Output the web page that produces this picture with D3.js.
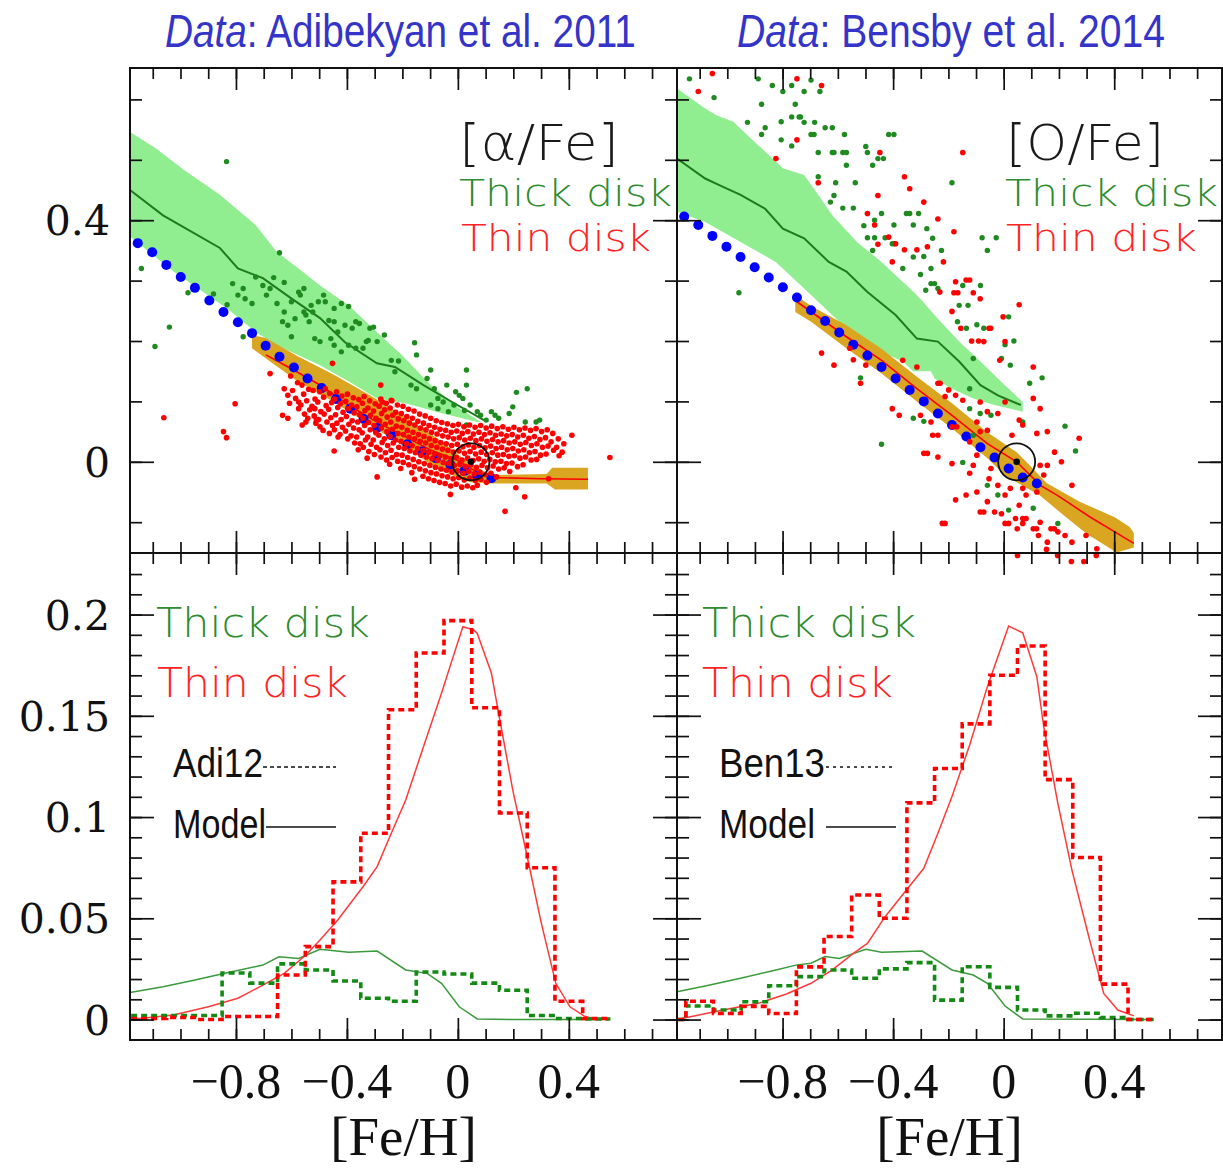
<!DOCTYPE html>
<html><head><meta charset="utf-8">
<script src="https://cdn.jsdelivr.net/npm/d3@7"></script>
<style>body{margin:0;background:#fff}</style>
</head><body>
<svg id="c" width="1223" height="1168"></svg>
<script>
// ---------------- DATA ----------------
const xDomain = [-1.182, 0.79];
const topYDomain = [-0.151, 0.652];
const botYDomain = [-0.0101, 0.2304];

const xTickLabels = [-0.8, -0.4, 0, 0.4];
const topYTickLabels = [0, 0.4];
const botYTickLabels = [0, 0.05, 0.1, 0.15, 0.2];

const sun = [0.047, 0.0];

// --- Top-left: [alpha/Fe], Adibekyan
const gBandUpL = [[-1.182,0.546],[-1.089,0.519],[-0.987,0.483],[-0.858,0.442],[-0.729,0.392],[-0.652,0.347],[-0.574,0.320],[-0.497,0.292],[-0.394,0.259],[-0.292,0.215],[-0.202,0.177],[-0.098,0.127],[0.004,0.089],[0.083,0.066]];
const gBandLoL = [[0.069,0.066],[-0.061,0.081],[-0.188,0.097],[-0.292,0.105],[-0.382,0.130],[-0.497,0.160],[-0.652,0.193],[-0.729,0.215],[-0.832,0.254],[-1.025,0.315],[-1.182,0.373]];
const gMeanL = [[-1.182,0.450],[-1.063,0.408],[-0.858,0.354],[-0.793,0.320],[-0.703,0.304],[-0.602,0.271],[-0.497,0.238],[-0.407,0.198],[-0.292,0.163],[-0.227,0.157],[-0.124,0.127],[-0.021,0.099],[0.094,0.069]];
const oBandUpL = [[-0.742,0.210],[-0.692,0.205],[-0.574,0.174],[-0.447,0.144],[-0.317,0.110],[-0.173,0.069],[-0.065,0.036],[0.026,0.003],[0.116,-0.022],[0.320,-0.020],[0.340,-0.010],[0.469,-0.010]];
const oBandLoL = [[0.469,-0.046],[0.350,-0.046],[0.320,-0.036],[0.116,-0.036],[0.044,-0.034],[-0.065,-0.014],[-0.173,0.019],[-0.317,0.061],[-0.447,0.099],[-0.574,0.132],[-0.677,0.166],[-0.742,0.188]];
const rMeanL = [[-0.692,0.177],[-0.600,0.154],[-0.500,0.128],[-0.394,0.094],[-0.300,0.068],[-0.200,0.044],[-0.100,0.020],[0.000,0.002],[0.050,-0.012],[0.119,-0.026],[0.300,-0.028],[0.469,-0.029]];
const blueL = [[-1.154,0.362],[-1.102,0.347],[-1.051,0.326],[-0.999,0.306],[-0.948,0.288],[-0.896,0.267],[-0.845,0.248],[-0.793,0.231],[-0.742,0.213],[-0.693,0.192],[-0.643,0.174],[-0.591,0.156],[-0.542,0.138],[-0.491,0.122],[-0.439,0.104],[-0.388,0.088],[-0.340,0.071],[-0.292,0.056],[-0.240,0.044],[-0.182,0.029],[-0.130,0.017],[-0.079,0.006],[-0.027,-0.005],[0.024,-0.015],[0.069,-0.023],[0.121,-0.027]];
const thickL = [[-0.834,0.497],[-1.141,0.320],[-0.973,0.280],[-0.881,0.278],[-1.040,0.223],[-1.092,0.191],[-0.832,0.260],[-0.774,0.207],[-0.643,0.346],[-0.812,0.295],[-0.774,0.287],[-0.729,0.306],[-0.703,0.292],[-0.664,0.305],[-0.767,0.270],[-0.742,0.262],[-0.690,0.276],[-0.652,0.262],[-0.626,0.248],[-0.600,0.265],[-0.574,0.281],[-0.555,0.287],[-0.632,0.232],[-0.613,0.226],[-0.587,0.237],[-0.548,0.243],[-0.523,0.248],[-0.484,0.276],[-0.478,0.265],[-0.446,0.254],[-0.420,0.262],[-0.394,0.257],[-0.465,0.234],[-0.446,0.232],[-0.536,0.232],[-0.516,0.204],[-0.600,0.207],[-0.433,0.215],[-0.407,0.226],[-0.381,0.221],[-0.355,0.229],[-0.317,0.221],[-0.304,0.223],[-0.394,0.193],[-0.368,0.188],[-0.342,0.188],[-0.330,0.199],[-0.291,0.199],[-0.265,0.210],[-0.420,0.182],[-0.497,0.199],[-0.240,0.168],[-0.214,0.167],[-0.156,0.197],[-0.149,0.177],[-0.227,0.149],[-0.169,0.127],[-0.149,0.121],[-0.111,0.138],[-0.098,0.152],[-0.085,0.121],[-0.072,0.105],[-0.040,0.127],[-0.008,0.116],[0.018,0.105],[0.031,0.152],[0.031,0.127],[0.044,0.094],[0.070,0.083],[0.082,0.077],[0.102,0.069],[0.121,0.083],[0.147,0.072],[0.185,0.080],[0.198,0.091],[0.211,0.115],[0.250,0.121],[0.243,0.066],[0.282,0.066],[0.295,0.069],[-0.053,0.099],[0.005,0.110],[-0.098,0.094],[-0.072,0.088],[-0.014,0.094],[0.031,0.061],[0.134,0.077],[-0.034,0.083],[0.024,0.085],[-0.555,0.248],[-0.568,0.276],[-0.626,0.297],[-0.677,0.287],[-0.793,0.276],[-0.529,0.259],[-0.503,0.265],[-0.368,0.232],[-0.323,0.201],[-0.458,0.204],[-0.446,0.193]];
const thinL = [[-1.060,0.073],[-0.845,0.050],[-0.834,0.040],[-0.803,0.096],[-0.452,0.163],[-0.677,0.146],[-0.446,0.018],[-0.291,-0.025],[0.170,-0.082],[0.548,0.007],[0.411,0.044],[0.241,-0.058],[0.209,-0.043],[-0.027,-0.054],[-0.156,-0.029],[-0.632,0.077],[-0.613,0.072],[-0.561,0.061],[-0.548,0.066],[-0.510,0.069],[-0.516,0.088],[-0.626,0.121],[-0.613,0.110],[-0.574,0.099],[-0.278,0.127],[-0.272,0.099],[-0.240,0.102],[0.070,-0.039],[0.327,-0.028],
[-0.603,0.142],[-0.596,0.118],[-0.607,0.097],[-0.578,0.131],[-0.585,0.105],[-0.574,0.088],
[-0.562,0.127],[-0.556,0.112],[-0.566,0.094],[-0.553,0.079],[-0.538,0.120],[-0.545,0.101],[-0.534,0.086],[-0.541,0.072],
[-0.522,0.118],[-0.515,0.104],[-0.526,0.092],[-0.518,0.076],[-0.512,0.064],[-0.498,0.116],[-0.505,0.099],[-0.494,0.083],[-0.502,0.070],[-0.497,0.058],
[-0.478,0.121],[-0.484,0.107],[-0.475,0.093],[-0.482,0.079],[-0.472,0.066],[-0.486,0.052],[-0.462,0.113],[-0.455,0.098],[-0.466,0.087],[-0.458,0.073],[-0.452,0.060],[-0.463,0.047],
[-0.437,0.116],[-0.444,0.104],[-0.433,0.090],[-0.441,0.078],[-0.436,0.064],[-0.445,0.053],[-0.432,0.041],[-0.418,0.109],[-0.424,0.096],[-0.414,0.082],[-0.421,0.070],[-0.416,0.057],[-0.425,0.045],
[-0.398,0.112],[-0.404,0.100],[-0.395,0.088],[-0.402,0.075],[-0.393,0.062],[-0.405,0.051],[-0.397,0.038],[-0.377,0.106],[-0.383,0.094],[-0.374,0.081],[-0.381,0.068],[-0.376,0.056],[-0.385,0.043],[-0.372,0.031],
[-0.357,0.103],[-0.364,0.091],[-0.354,0.078],[-0.361,0.066],[-0.356,0.053],[-0.365,0.041],[-0.352,0.030],[-0.359,0.020],[-0.338,0.108],[-0.344,0.097],[-0.335,0.085],[-0.342,0.072],[-0.336,0.060],[-0.345,0.048],[-0.333,0.036],[-0.341,0.024],
[-0.318,0.101],[-0.324,0.089],[-0.315,0.077],[-0.322,0.065],[-0.316,0.053],[-0.325,0.041],[-0.313,0.029],[-0.321,0.017],[-0.327,0.006],[-0.298,0.096],[-0.304,0.084],[-0.295,0.072],[-0.302,0.060],[-0.296,0.048],[-0.305,0.036],[-0.293,0.024],[-0.301,0.012],
[-0.278,0.104],[-0.284,0.092],[-0.275,0.080],[-0.282,0.068],[-0.276,0.056],[-0.285,0.044],[-0.273,0.032],[-0.281,0.020],[-0.277,0.008],[-0.258,0.097],[-0.264,0.086],[-0.255,0.074],[-0.262,0.062],[-0.256,0.050],[-0.265,0.038],[-0.253,0.027],[-0.261,0.015],[-0.257,0.003],
[-0.238,0.101],[-0.244,0.089],[-0.235,0.077],[-0.242,0.066],[-0.236,0.054],[-0.245,0.042],[-0.233,0.031],[-0.241,0.019],[-0.237,0.007],[-0.246,-0.004],[-0.218,0.094],[-0.224,0.082],[-0.215,0.071],[-0.222,0.059],[-0.216,0.047],[-0.225,0.036],[-0.213,0.024],[-0.221,0.012],[-0.217,0.001],
[-0.198,0.092],[-0.204,0.080],[-0.195,0.068],[-0.202,0.057],[-0.196,0.045],[-0.205,0.034],[-0.193,0.022],[-0.201,0.011],[-0.197,-0.001],[-0.206,-0.011],[-0.178,0.087],[-0.184,0.075],[-0.175,0.064],[-0.182,0.052],[-0.176,0.041],[-0.185,0.030],[-0.173,0.018],[-0.181,0.007],[-0.177,-0.005],
[-0.158,0.084],[-0.164,0.072],[-0.155,0.061],[-0.162,0.049],[-0.156,0.038],[-0.165,0.027],[-0.153,0.015],[-0.161,0.004],[-0.157,-0.008],[-0.166,-0.018],[-0.138,0.079],[-0.144,0.067],[-0.135,0.056],[-0.142,0.045],[-0.136,0.034],[-0.145,0.022],[-0.133,0.011],[-0.141,0.000],[-0.137,-0.012],
[-0.118,0.076],[-0.124,0.064],[-0.115,0.053],[-0.122,0.042],[-0.116,0.031],[-0.125,0.019],[-0.113,0.008],[-0.121,-0.003],[-0.117,-0.015],[-0.126,-0.024],[-0.098,0.072],[-0.104,0.060],[-0.095,0.049],[-0.102,0.038],[-0.096,0.027],[-0.105,0.016],[-0.093,0.005],[-0.101,-0.006],[-0.097,-0.018],[-0.106,-0.028],
[-0.078,0.068],[-0.084,0.057],[-0.075,0.046],[-0.082,0.035],[-0.076,0.024],[-0.085,0.013],[-0.073,0.002],[-0.081,-0.009],[-0.077,-0.020],[-0.086,-0.031],[-0.058,0.065],[-0.064,0.054],[-0.055,0.043],[-0.062,0.032],[-0.056,0.021],[-0.065,0.010],[-0.053,-0.001],[-0.061,-0.012],[-0.057,-0.023],[-0.066,-0.034],
[-0.038,0.063],[-0.044,0.052],[-0.035,0.041],[-0.042,0.030],[-0.036,0.019],[-0.045,0.008],[-0.033,-0.003],[-0.041,-0.014],[-0.037,-0.025],[-0.046,-0.036],[-0.018,0.060],[-0.024,0.049],[-0.015,0.038],[-0.022,0.027],[-0.016,0.016],[-0.025,0.005],[-0.013,-0.006],[-0.021,-0.017],[-0.017,-0.028],[-0.026,-0.040],
[0.002,0.062],[-0.004,0.051],[0.005,0.040],[-0.002,0.029],[0.004,0.018],[-0.005,0.007],[0.007,-0.004],[-0.001,-0.015],[0.003,-0.026],[-0.006,-0.037],[0.022,0.058],[0.016,0.047],[0.025,0.036],[0.018,0.025],[0.024,0.014],[0.015,0.003],[0.027,-0.008],[0.019,-0.019],[0.023,-0.030],[0.014,-0.042],
[0.042,0.061],[0.036,0.050],[0.045,0.039],[0.038,0.028],[0.044,0.017],[0.035,0.006],[0.047,-0.005],[0.039,-0.016],[0.043,-0.027],[0.034,-0.040],[0.062,0.057],[0.056,0.046],[0.065,0.035],[0.058,0.024],[0.064,0.013],[0.055,0.002],[0.067,-0.009],[0.059,-0.020],[0.063,-0.031],[0.054,-0.043],
[0.082,0.060],[0.076,0.049],[0.085,0.038],[0.078,0.027],[0.084,0.016],[0.075,0.005],[0.087,-0.006],[0.079,-0.017],[0.083,-0.029],[0.102,0.056],[0.096,0.045],[0.105,0.034],[0.098,0.023],[0.104,0.012],[0.095,0.001],[0.107,-0.010],[0.099,-0.021],[0.103,-0.034],
[0.122,0.059],[0.116,0.048],[0.125,0.037],[0.118,0.026],[0.124,0.015],[0.115,0.004],[0.127,-0.007],[0.119,-0.019],[0.142,0.055],[0.136,0.044],[0.145,0.033],[0.138,0.022],[0.144,0.011],[0.135,0.000],[0.147,-0.012],[0.139,-0.025],
[0.162,0.058],[0.156,0.046],[0.165,0.035],[0.158,0.024],[0.164,0.012],[0.155,0.001],[0.167,-0.010],[0.182,0.054],[0.176,0.043],[0.185,0.031],[0.178,0.020],[0.184,0.009],[0.175,-0.003],[0.187,-0.016],
[0.202,0.057],[0.196,0.045],[0.205,0.033],[0.198,0.022],[0.204,0.010],[0.195,-0.002],[0.222,0.053],[0.216,0.041],[0.225,0.029],[0.218,0.018],[0.224,0.006],[0.215,-0.008],
[0.242,0.056],[0.236,0.044],[0.245,0.032],[0.238,0.020],[0.244,0.008],[0.235,-0.005],[0.262,0.052],[0.256,0.039],[0.265,0.027],[0.258,0.015],[0.264,0.003],
[0.282,0.055],[0.276,0.042],[0.285,0.030],[0.278,0.017],[0.284,0.004],[0.302,0.050],[0.296,0.037],[0.305,0.024],[0.298,0.011],[0.322,0.053],[0.316,0.040],[0.325,0.026],[0.318,0.013],
[0.342,0.047],[0.336,0.033],[0.345,0.019],[0.362,0.038],[0.356,0.024],[0.365,0.010],[0.382,0.030],[0.376,0.016]];

// --- Top-right: [O/Fe], Bensby
const gBandUpR = [[-1.182,0.618],[-1.080,0.585],[-1.041,0.574],[-0.978,0.563],[-0.914,0.535],[-0.850,0.508],[-0.799,0.486],[-0.722,0.475],[-0.671,0.442],[-0.620,0.408],[-0.531,0.364],[-0.442,0.331],[-0.391,0.309],[-0.314,0.276],[-0.238,0.237],[-0.161,0.199],[-0.084,0.166],[-0.008,0.132],[0.069,0.099]];
const gBandLoR = [[0.069,0.083],[-0.033,0.094],[-0.110,0.105],[-0.187,0.121],[-0.250,0.138],[-0.263,0.150],[-0.327,0.150],[-0.365,0.166],[-0.442,0.182],[-0.518,0.199],[-0.595,0.232],[-0.671,0.265],[-0.748,0.298],[-0.825,0.331],[-0.952,0.364],[-1.080,0.397],[-1.182,0.414]];
const gMeanR = [[-1.182,0.502],[-1.080,0.469],[-1.029,0.458],[-0.952,0.442],[-0.863,0.419],[-0.799,0.386],[-0.722,0.370],[-0.633,0.331],[-0.569,0.315],[-0.493,0.281],[-0.391,0.243],[-0.314,0.204],[-0.238,0.199],[-0.161,0.166],[-0.084,0.127],[-0.021,0.110],[0.062,0.094]];
const oBandUpR = [[-0.754,0.276],[-0.697,0.258],[-0.569,0.226],[-0.442,0.187],[-0.314,0.141],[-0.187,0.097],[-0.059,0.049],[0.047,0.016],[0.095,-0.006],[0.155,-0.035],[0.275,-0.066],[0.402,-0.092],[0.456,-0.108],[0.471,-0.118]];
const oBandLoR = [[0.471,-0.142],[0.409,-0.150],[0.300,-0.119],[0.216,-0.088],[0.131,-0.056],[0.071,-0.040],[0.011,-0.025],[-0.059,0.006],[-0.187,0.055],[-0.314,0.100],[-0.442,0.146],[-0.569,0.188],[-0.697,0.232],[-0.754,0.248]];
const rMeanR = [[-0.748,0.265],[-0.569,0.207],[-0.442,0.168],[-0.314,0.121],[-0.187,0.077],[-0.059,0.030],[0.047,0.000],[0.133,-0.039],[0.196,-0.056],[0.311,-0.091],[0.402,-0.116],[0.471,-0.135]];
const blueR = [[-1.156,0.406],[-1.105,0.392],[-1.054,0.374],[-1.003,0.356],[-0.952,0.339],[-0.901,0.322],[-0.850,0.305],[-0.799,0.289],[-0.748,0.272],[-0.697,0.251],[-0.646,0.233],[-0.595,0.214],[-0.544,0.194],[-0.493,0.176],[-0.442,0.157],[-0.391,0.138],[-0.340,0.119],[-0.289,0.100],[-0.238,0.080],[-0.187,0.061],[-0.135,0.042],[-0.084,0.024],[-0.033,0.007],[0.018,-0.011],[0.069,-0.026],[0.120,-0.036]];
const thickR = [[-1.137,0.634],[-1.048,0.603],[-0.888,0.634],[-0.837,0.623],[-0.799,0.613],[-0.767,0.623],[-0.722,0.613],[-0.697,0.632],[-0.665,0.613],[-0.876,0.592],[-0.754,0.592],[-0.927,0.562],[-0.863,0.553],[-0.805,0.563],[-0.767,0.571],[-0.735,0.571],[-0.722,0.562],[-0.684,0.562],[-0.876,0.542],[-0.805,0.533],[-0.767,0.523],[-0.697,0.542],[-0.686,0.542],[-0.646,0.553],[-0.620,0.553],[-0.576,0.542],[-0.671,0.512],[-0.620,0.512],[-0.582,0.512],[-0.569,0.512],[-0.499,0.522],[-0.493,0.512],[-0.569,0.491],[-0.474,0.491],[-0.455,0.502],[-0.435,0.502],[-0.416,0.542],[-0.397,0.542],[-0.671,0.472],[-0.608,0.462],[-0.537,0.462],[-0.582,0.420],[-0.544,0.420],[-0.614,0.441],[-0.627,0.430],[-0.506,0.391],[-0.467,0.400],[-0.442,0.411],[-0.397,0.392],[-0.352,0.411],[-0.340,0.411],[-0.327,0.392],[-0.308,0.411],[-0.278,0.386],[-0.257,0.370],[-0.467,0.371],[-0.493,0.371],[-0.429,0.371],[-0.403,0.361],[-0.474,0.350],[-0.327,0.339],[-0.289,0.340],[-0.263,0.320],[-0.225,0.350],[-0.365,0.320],[-0.301,0.310],[-0.263,0.295],[-0.238,0.287],[-0.282,0.284],[-0.187,0.462],[-0.078,0.371],[-0.059,0.350],[-0.027,0.371],[-0.958,0.280],[-0.148,0.292],[-0.161,0.259],[-0.129,0.259],[-0.167,0.232],[-0.097,0.227],[0.018,0.240],[-0.072,0.221],[0.005,0.194],[0.037,0.200],[-0.008,0.171],[0.024,0.160],[0.139,0.139],[0.094,0.130],[-0.110,0.171],[-0.123,0.121],[-0.442,0.029],[0.222,0.059],[0.260,0.018],[-0.518,0.139],[-0.148,-0.001],[-0.123,0.088],[-0.085,0.080],[-0.046,0.077],[-0.110,0.044],[-0.059,-0.039],[-0.021,-0.055],[0.018,-0.080],[0.107,-0.077],[0.196,-0.102],[0.069,0.066],[-0.327,0.072],[-0.289,0.067],[-0.614,0.512],[-0.740,0.571],[-0.396,0.361],[-0.250,0.295],[-0.084,0.292],[-0.135,0.221]];
const thinR = [[-1.054,0.643],[-1.105,0.613],[-0.748,0.634],[-0.659,0.623],[-0.824,0.502],[-0.748,0.533],[-0.448,0.512],[-0.148,0.512],[-0.671,0.462],[-0.359,0.472],[-0.340,0.452],[-0.455,0.441],[-0.289,0.430],[-0.493,0.411],[-0.238,0.402],[-0.180,0.381],[-0.467,0.392],[-0.403,0.331],[-0.359,0.351],[-0.218,0.331],[-0.455,0.360],[-0.391,0.361],[-0.416,0.372],[-0.314,0.351],[-0.276,0.356],[-0.231,0.281],[-0.180,0.280],[-0.174,0.298],[-0.136,0.301],[-0.110,0.280],[-0.085,0.270],[-0.187,0.249],[-0.155,0.221],[-0.116,0.200],[-0.091,0.200],[-0.053,0.221],[-0.002,0.240],[-0.072,0.199],[0.056,0.260],[0.005,0.199],[-0.014,0.168],[-0.659,0.180],[-0.614,0.160],[-0.544,0.169],[-0.557,0.188],[-0.499,0.160],[-0.518,0.130],[-0.365,0.168],[-0.314,0.157],[-0.238,0.130],[-0.199,0.119],[-0.212,0.108],[-0.174,0.110],[-0.148,0.102],[-0.085,0.099],[-0.059,0.083],[-0.021,0.080],[0.005,0.099],[0.107,0.157],[0.107,0.105],[0.132,0.088],[-0.403,0.088],[-0.378,0.077],[-0.301,0.077],[-0.263,0.066],[-0.257,0.044],[-0.238,0.044],[-0.187,0.058],[-0.123,0.033],[-0.289,0.014],[-0.238,0.008],[-0.187,-0.003],[-0.123,-0.019],[-0.110,-0.006],[-0.097,0.011],[-0.046,-0.011],[-0.053,-0.028],[-0.021,-0.039],[0.005,-0.055],[0.024,-0.044],[0.069,-0.044],[0.081,-0.055],[0.120,-0.050],[0.132,-0.006],[0.158,-0.006],[0.145,-0.022],[0.120,0.047],[0.158,0.050],[0.184,0.016],[0.209,0.000],[0.273,0.039],[0.247,-0.039],[-0.174,-0.063],[-0.136,-0.055],[-0.085,-0.083],[-0.033,-0.083],[-0.008,-0.086],[0.043,-0.094],[0.069,-0.094],[0.132,-0.100],[0.049,-0.111],[0.107,-0.111],[0.126,-0.122],[0.171,-0.111],[0.196,-0.116],[0.222,-0.122],[0.158,-0.133],[0.247,-0.133],[0.298,-0.122],[0.337,-0.144],[0.069,-0.102],[0.005,-0.102],[-0.212,-0.102],[-0.097,-0.050],[-0.059,-0.066],[0.056,-0.072],[-0.097,0.066],[-0.085,0.050],[-0.059,0.052],[0.056,0.069],[0.069,0.061],[0.030,0.044],[0.050,-0.155],[0.155,-0.145],[0.195,-0.155],[0.245,-0.165],[0.290,-0.165],[0.335,-0.155],[-0.166,0.280],[-0.123,0.301],[-0.047,0.221],[-0.230,0.130],[-0.170,0.058],[-0.276,0.014],[-0.222,-0.102],[0.018,-0.102],[0.119,-0.111],[0.183,-0.111],[-0.072,-0.083],[0.081,-0.094]];

// --- Bottom: metallicity distributions
const histEdges = [-1.25,-1.15,-1.05,-0.95,-0.85,-0.75,-0.65,-0.55,-0.45,-0.35,-0.25,-0.15,-0.05,0.05,0.15,0.25,0.35,0.45,0.55];
const thinHistL  = [0.0005,0.0005,0.001,0.0,0.0015,0.0015,0.022,0.036,0.068,0.092,0.153,0.181,0.197,0.154,0.102,0.075,0.009,0.0005];
const thickHistL = [0.002,0.002,0.002,0.002,0.023,0.018,0.0275,0.0245,0.019,0.0105,0.009,0.0235,0.0225,0.018,0.0145,0.002,0.0005,0.0003];
const thinHistR  = [0.0,0.009,0.003,0.0065,0.003,0.026,0.041,0.0615,0.050,0.107,0.124,0.146,0.170,0.1845,0.1185,0.080,0.0175,0.0];
const thickHistR = [0.0,0.0067,0.0047,0.0088,0.0167,0.0212,0.0245,0.0204,0.025,0.0281,0.0096,0.0261,0.0159,0.0047,0.0018,0.0031,0.001,0.0];
const thinModelL = [[-1.182,0.0],[-1.025,0.0023],[-0.896,0.0064],[-0.793,0.0105],[-0.703,0.017],[-0.626,0.0228],[-0.548,0.0319],[-0.497,0.0393],[-0.433,0.0492],[-0.342,0.0656],[-0.291,0.0755],[-0.240,0.092],[-0.188,0.1084],[-0.124,0.1347],[-0.059,0.1611],[-0.021,0.1775],[0.018,0.194],[0.057,0.1924],[0.070,0.1907],[0.121,0.171],[0.147,0.1512],[0.198,0.1133],[0.250,0.0804],[0.301,0.0475],[0.353,0.0179],[0.404,0.0063],[0.456,0.0017],[0.495,0.0003]];
const thickModelL = [[-1.182,0.0134],[-1.063,0.0162],[-0.960,0.0192],[-0.832,0.0231],[-0.703,0.0269],[-0.645,0.031],[-0.574,0.0302],[-0.497,0.0347],[-0.394,0.0332],[-0.291,0.0338],[-0.188,0.0245],[-0.111,0.0228],[-0.059,0.0179],[0.005,0.0063],[0.070,0.0003],[0.198,0.0],[0.520,0.0]];
const thinModelR = [[-1.182,0.0],[-1.016,0.0047],[-0.888,0.008],[-0.786,0.0126],[-0.697,0.0179],[-0.620,0.0245],[-0.544,0.0327],[-0.493,0.0376],[-0.429,0.0508],[-0.352,0.064],[-0.289,0.0747],[-0.238,0.092],[-0.187,0.1101],[-0.123,0.1356],[-0.059,0.1644],[0.018,0.1943],[0.069,0.191],[0.120,0.1693],[0.145,0.1446],[0.196,0.1068],[0.247,0.0738],[0.311,0.0393],[0.362,0.0129],[0.413,0.0047],[0.471,0.0018]];
const thickModelR = [[-1.182,0.0137],[-1.080,0.0166],[-0.952,0.0204],[-0.824,0.0245],[-0.748,0.027],[-0.697,0.0278],[-0.646,0.0311],[-0.595,0.0302],[-0.499,0.0347],[-0.442,0.0332],[-0.295,0.0338],[-0.187,0.0245],[-0.110,0.022],[-0.059,0.0179],[0.005,0.0067],[0.069,0.0003],[0.541,0.0]];

// ---------------- DRAWING ----------------
const svg = d3.select("#c");
const PX = {L:[130,677], R:[677,1222]};
const TOPY = [68,553], BOTY = [553,1040];
const xs = {
  L: d3.scaleLinear().domain(xDomain).range(PX.L),
  R: d3.scaleLinear().domain(xDomain).range(PX.R)
};
const yT = d3.scaleLinear().domain(topYDomain).range([TOPY[1], TOPY[0]]);
const yB = d3.scaleLinear().domain(botYDomain).range([BOTY[1], BOTY[0]]);

const defs = svg.append("defs");
["L","R"].forEach(k=>{
  defs.append("clipPath").attr("id","ct"+k).append("rect")
    .attr("x",PX[k][0]).attr("y",TOPY[0]).attr("width",PX[k][1]-PX[k][0]).attr("height",TOPY[1]-TOPY[0]);
  defs.append("clipPath").attr("id","cb"+k).append("rect")
    .attr("x",PX[k][0]).attr("y",BOTY[0]).attr("width",PX[k][1]-PX[k][0]).attr("height",BOTY[1]-BOTY[0]);
});

const GREEN_BAND="#90ee90", GOLD="#daa520", DGREEN="#1e7a1e", PGREEN="#1f8a1f", RED="#ff0000", BLUE="#0000ff";

function topPanel(k, d){
  const x = xs[k], y = yT;
  const ln = d3.line().x(p=>x(p[0])).y(p=>y(p[1]));
  const g = svg.append("g");
  const gc = g.append("g").attr("clip-path",`url(#ct${k})`);
  gc.append("path").attr("d", ln(d.gUp.concat(d.gLo))+"Z").attr("fill",GREEN_BAND);
  gc.append("path").attr("d", ln(d.oUp.concat(d.oLo))+"Z").attr("fill",GOLD);
  gc.append("path").attr("d", ln(d.gMean)).attr("fill","none").attr("stroke",DGREEN).attr("stroke-width",2);
  gc.append("path").attr("d", ln(d.rMean)).attr("fill","none").attr("stroke",RED).attr("stroke-width",1.6);
  g.append("g").selectAll("circle").data(d.blue).join("circle")
    .attr("cx",p=>x(p[0])).attr("cy",p=>y(p[1])).attr("r",5).attr("fill",BLUE);
  g.append("g").selectAll("circle").data(d.thick).join("circle")
    .attr("cx",p=>x(p[0])).attr("cy",p=>y(p[1])).attr("r",2.7).attr("fill",PGREEN);
  g.append("g").selectAll("circle").data(d.thin).join("circle")
    .attr("cx",p=>x(p[0])).attr("cy",p=>y(p[1])).attr("r",2.8).attr("fill",RED);
  g.append("circle").attr("cx",x(sun[0])).attr("cy",y(sun[1])).attr("r",18.5)
    .attr("fill","none").attr("stroke","#111").attr("stroke-width",1.8);
  g.append("circle").attr("cx",x(sun[0])).attr("cy",y(sun[1])).attr("r",3.3).attr("fill","#000");
}

function botPanel(k, d){
  const x = xs[k], y = yB;
  const g = svg.append("g").attr("clip-path",`url(#cb${k})`);
  const ln = d3.line().x(p=>x(p[0])).y(p=>y(p[1]));
  const step = d3.line().x(p=>x(p[0])).y(p=>y(p[1])).curve(d3.curveStepAfter);
  const hpts = vals => vals.map((v,i)=>[histEdges[i], v]).concat([[histEdges[vals.length], vals[vals.length-1]]]);
  g.append("path").attr("d", ln(d.thickModel)).attr("fill","none").attr("stroke","#3b9a3b").attr("stroke-width",1.5);
  g.append("path").attr("d", ln(d.thinModel)).attr("fill","none").attr("stroke","#ff3a3a").attr("stroke-width",1.5);
  g.append("path").attr("d", step(hpts(d.thickHist))).attr("fill","none").attr("stroke","#138a13")
    .attr("stroke-width",3.6).attr("stroke-dasharray","6,4");
  g.append("path").attr("d", step(hpts(d.thinHist))).attr("fill","none").attr("stroke",RED)
    .attr("stroke-width",3.6).attr("stroke-dasharray","6,4");
}

topPanel("L",{gUp:gBandUpL,gLo:gBandLoL,gMean:gMeanL,oUp:oBandUpL,oLo:oBandLoL,rMean:rMeanL,blue:blueL,thick:thickL,thin:thinL});
topPanel("R",{gUp:gBandUpR,gLo:gBandLoR,gMean:gMeanR,oUp:oBandUpR,oLo:oBandLoR,rMean:rMeanR,blue:blueR,thick:thickR,thin:thinR});
botPanel("L",{thinHist:thinHistL,thickHist:thickHistL,thinModel:thinModelL,thickModel:thickModelL});
botPanel("R",{thinHist:thinHistR,thickHist:thickHistR,thinModel:thinModelR,thickModel:thickModelR});

// ---- frames & ticks ----
const xMinor = d3.range(-11, 8).map(i=>i/10);
const xMajor = [-0.8,-0.4,0,0.4];
const topYMinor = d3.range(-1, 7).map(i=>i/10);
const topYMajor = [0,0.4];
const botYMinor = d3.range(0, 23).map(i=>i/100);
const botYMajor = [0,0.05,0.1,0.15,0.2];

function ticks(g, axisFn, scale, vals, size, tr){
  g.append("g").attr("transform",tr)
    .call(axisFn(scale).tickValues(vals).tickSize(size).tickFormat("").tickSizeOuter(0))
    .call(s=>{s.select(".domain").remove(); s.selectAll("line").attr("stroke","#111").attr("stroke-width",1.7);});
}
function frame(k, yScale, YR, yMin, yMaj){
  const x = xs[k], [x0,x1] = PX[k], [y0,y1] = YR;
  const g = svg.append("g");
  ticks(g, d3.axisBottom, x, xMinor, 11, `translate(0,${y0})`);
  ticks(g, d3.axisBottom, x, xMajor, 22, `translate(0,${y0})`);
  ticks(g, d3.axisTop, x, xMinor, 11, `translate(0,${y1})`);
  ticks(g, d3.axisTop, x, xMajor, 22, `translate(0,${y1})`);
  ticks(g, d3.axisRight, yScale, yMin, 12, `translate(${x0},0)`);
  ticks(g, d3.axisRight, yScale, yMaj, 24, `translate(${x0},0)`);
  ticks(g, d3.axisLeft, yScale, yMin, 12, `translate(${x1},0)`);
  ticks(g, d3.axisLeft, yScale, yMaj, 24, `translate(${x1},0)`);
  g.append("rect").attr("x",x0).attr("y",y0).attr("width",x1-x0).attr("height",y1-y0)
    .attr("fill","none").attr("stroke","#111").attr("stroke-width",2);
}
frame("L", yT, TOPY, topYMinor, topYMajor);
frame("R", yT, TOPY, topYMinor, topYMajor);
frame("L", yB, BOTY, botYMinor, botYMajor);
frame("R", yB, BOTY, botYMinor, botYMajor);

// ---- tick labels ----
const fmtMinus = v => (v<0 ? "\u2212" : "") + String(Math.abs(v));
svg.append("g").selectAll("text").data(topYTickLabels).join("text")
  .attr("x",110).attr("y",v=>yT(v)+15).attr("text-anchor","end")
  .attr("font-family","DejaVu Serif, serif").attr("font-size",41).attr("fill","#111").text(v=>String(v));
svg.append("g").selectAll("text").data(botYTickLabels).join("text")
  .attr("x",110).attr("y",v=>yB(v)+15).attr("text-anchor","end")
  .attr("font-family","DejaVu Serif, serif").attr("font-size",41).attr("fill","#111").text(v=>String(v));
["L","R"].forEach(k=>{
  svg.append("g").selectAll("text").data(xTickLabels).join("text")
    .attr("x",v=>xs[k](v)).attr("y",1098).attr("text-anchor","middle")
    .attr("font-family","Liberation Serif, serif").attr("font-size",50).attr("fill","#111").text(fmtMinus);
  svg.append("text").attr("x",(PX[k][0]+PX[k][1])/2).attr("y",1155).attr("text-anchor","middle")
    .attr("font-family","Liberation Serif, serif").attr("font-size",55).attr("fill","#111").text("[Fe/H]");
});

// ---- titles (one text each, horizontally condensed by a transform) ----
const TITLE_FONT = "Liberation Sans Narrow, Liberation Sans, Arial, sans-serif";
function title(x, width, rest){
  const t = svg.append("text").attr("x",0).attr("y",0).attr("font-family",TITLE_FONT)
    .attr("font-size",46).attr("fill","#3434c8");
  t.append("tspan").attr("font-style","italic").text("Data");
  t.append("tspan").text(rest);
  const w = t.node().getComputedTextLength();
  t.attr("transform",`translate(${x},47) scale(${width/w},1)`);
}
title(165, 471, ": Adibekyan et al. 2011");
title(737, 428, ": Bensby et al. 2014");

// ---- legends ----
function txt(x,y,s,size,fill,len,fam,weight){
  const t = svg.append("text").attr("x",x).attr("y",y).attr("font-family",fam||"DejaVu Sans, sans-serif")
    .attr("font-size",size).attr("fill",fill).text(s);
  if(weight) t.attr("font-weight",weight);
  if(len) t.attr("textLength",len).attr("lengthAdjust","spacingAndGlyphs");
  return t;
}
const TGREEN="#2e8b2e", TRED="#ff2424";
txt(459,160,"[\u03b1/Fe]",50,"#1a1a1a",160,null,200);
txt(459,206,"Thick disk",38,TGREEN,213,null,200);
txt(461,251,"Thin disk",38,TRED,190,null,200);
txt(1006,160,"[O/Fe]",50,"#1a1a1a",158,null,200);
txt(1005,206,"Thick disk",38,TGREEN,213,null,200);
txt(1006,251,"Thin disk",38,TRED,191,null,200);

txt(156,637,"Thick disk",40,TGREEN,214,null,200);
txt(157,697,"Thin disk",40,TRED,191,null,200);
txt(702,637,"Thick disk",40,TGREEN,214,null,200);
txt(702,697,"Thin disk",40,TRED,191,null,200);

const NARROW = "Liberation Sans Narrow, Liberation Sans, Arial, sans-serif";
txt(173,777,"Adi12",40,"#111",90,NARROW);
txt(173,838,"Model",40,"#111",93,NARROW);
txt(719,777,"Ben13",40,"#111",106,NARROW);
txt(719,838,"Model",40,"#111",96,NARROW);
svg.append("line").attr("x1",263).attr("x2",336).attr("y1",767).attr("y2",767).attr("stroke","#111").attr("stroke-width",1.5).attr("stroke-dasharray","4,3");
svg.append("line").attr("x1",266).attr("x2",336).attr("y1",827).attr("y2",827).attr("stroke","#111").attr("stroke-width",1.5);
svg.append("line").attr("x1",826).attr("x2",896).attr("y1",767).attr("y2",767).attr("stroke","#111").attr("stroke-width",1.5).attr("stroke-dasharray","3,4");
svg.append("line").attr("x1",826).attr("x2",896).attr("y1",827).attr("y2",827).attr("stroke","#111").attr("stroke-width",1.5);
</script>
</body></html>
